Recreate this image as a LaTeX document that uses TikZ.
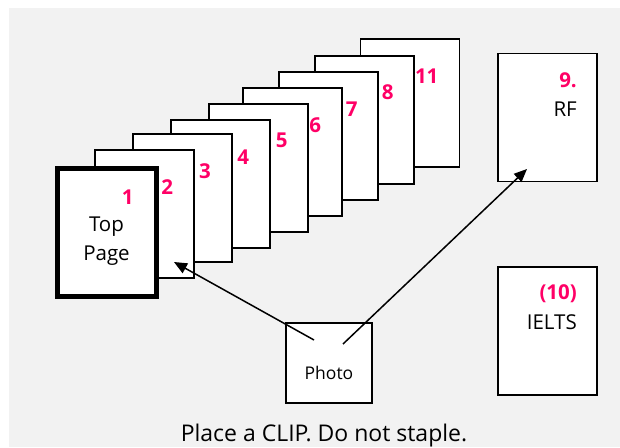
\documentclass[tikz,border=0pt]{standalone}
\usepackage{fontspec}
\setmainfont{Open Sans}
\usepackage{tikz}
\usetikzlibrary{arrows.meta}
\definecolor{bggray}{RGB}{242,242,242}
\definecolor{numpink}{RGB}{255,0,102}

\begin{document}
\begin{tikzpicture}[x=1pt, y=-1pt,
	page/.style={draw, line width=1.8pt, fill=white, minimum width=99pt, minimum height=128pt, inner sep=0pt},
	num/.style={text=numpink, font=\fontsize{20.5}{22}\selectfont\bfseries, inner sep=0pt},
	txt/.style={font=\fontsize{20.5}{29}\selectfont, inner sep=0pt},
	arr/.style={-{Triangle[length=13pt,width=11pt]}, line width=1.5pt}]
	\useasboundingbox (0,0) rectangle (620,447);
	\fill[bggray] (9,8) rectangle (620,447);

	\node[page] (p11) at (410,103) {};
	\node[page] (p8) at (364.5,120) {};
	\node[page] (p7) at (328.5,136) {};
	\node[page] (p6) at (292.5,152) {};
	\node[page] (p5) at (258.5,168) {};
	\node[page] (p4) at (220.5,184) {};
	\node[page] (p3) at (182.5,198) {};
	\node[page] (p2) at (144.5,214) {};
	\node[page, line width=5pt] (p1) at (106.5,232) {};
	\node[page] (rf) at (547.5,117.5) {};
	\node[page] (ielts) at (547.5,331) {};
	\node[page, minimum width=86pt, minimum height=80pt] (photo) at (329,363) {};

	\node[num] (n1) at (127.7,197) {1};
	\node[num] (n2) at (167.3,187) {2};
	\node[num] (n3) at (205,171) {3};
	\node[num] (n4) at (243.3,157.3) {4};
	\node[num] (n5) at (281.7,140) {5};
	\node[num] (n6) at (315.3,125) {6};
	\node[num] (n7) at (351.7,109) {7};
	\node[num] (n8) at (387.7,92.3) {8};
	\node[num] (n11) at (426.7,75.7) {11};
	\node[num, anchor=east] (n9) at (577,80) {9.};
	\node[num, anchor=east] (n10) at (577,293.5) {(10)};

	\node[txt, align=center] (top) at (106.5,241) {Top\\Page};
	\node[txt, anchor=east] (rft) at (577,109) {RF};
	\node[txt, anchor=east] (ieltst) at (577,322) {IELTS};
	\node[txt, font=\fontsize{17.5}{20}\selectfont] (phot) at (329,372.5) {Photo};
	\node[txt, font=\fontsize{23}{26}\selectfont, anchor=base] (clip) at (324,441) {Place a CLIP. Do not staple.};

	\coordinate (pa) at (314,340);
	\coordinate (pb) at (343,344);
	\coordinate (ta) at (174,262);
	\coordinate (tb) at (527,169);

	\path [arr] (pa) edge (ta);
	\path [arr] (pb) edge (tb);
\end{tikzpicture}
\end{document}
